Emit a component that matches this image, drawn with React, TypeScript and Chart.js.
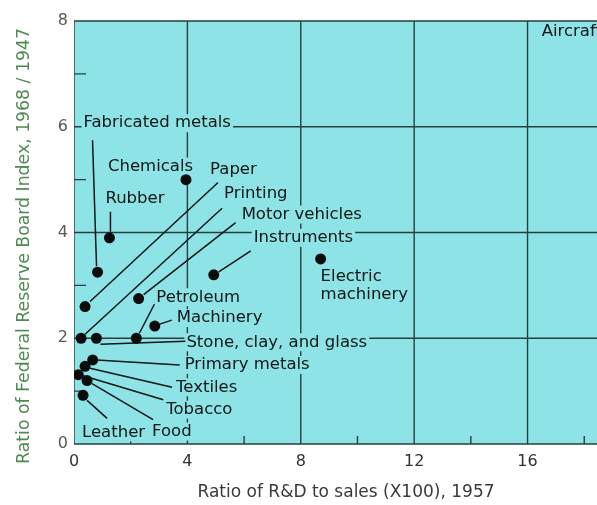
import React, { useEffect, useRef } from "react";
import { Chart, registerables } from "chart.js";

Chart.register(...registerables);

// ---- data ----
const industries = [
  "Chemicals", "Rubber", "Fabricated metals", "Paper", "Printing",
  "Motor vehicles", "Instruments", "Electric machinery", "Petroleum", "Machinery",
  "Stone, clay, and glass", "Primary metals", "Textiles", "Tobacco", "Food", "Leather",
];
const rdToSales = [3.95, 1.25, 0.83, 0.39, 0.25, 2.28, 4.93, 8.7, 2.2, 2.85, 0.79, 0.66, 0.39, 0.15, 0.46, 0.32];
const frbRatio = [5.0, 3.9, 3.25, 2.6, 2.0, 2.75, 3.2, 3.5, 2.0, 2.23, 2.0, 1.59, 1.47, 1.31, 1.2, 0.92];

const xMajorTicks = [0, 4, 8, 12, 16];
const xMinorTicks = [2, 6, 10, 14, 18];
const yMajorTicks = [0, 2, 4, 6, 8];
const yMinorTicks = [1, 3, 5, 7];

const xTitle = "Ratio of R&D to sales (X100), 1957";
const yTitle = "Ratio of Federal Reserve Board Index, 1968 / 1947";
const offChartLabel = { text: "Aircraft", x: 16.5, y: 7.8 };

// ---- label layout (pixel offsets from each point) ----
type Lab = { lines: string[]; dx: number; dy: number; lead?: number[] };
const labelLayout: Lab[] = [
  { lines: ["Chemicals"], dx: -78, dy: -13 },
  { lines: ["Rubber"], dx: -4, dy: -39, lead: [1, -6, 1, -26] },
  { lines: ["Fabricated metals"], dx: -14, dy: -149, lead: [-1, -6, -5, -132] },
  { lines: ["Paper"], dx: 125, dy: -137, lead: [5, -5, 133, -124] },
  { lines: ["Printing"], dx: 143, dy: -145, lead: [4, -4, 141, -130] },
  { lines: ["Motor vehicles"], dx: 103, dy: -84, lead: [5, -4, 97, -76] },
  { lines: ["Instruments"], dx: 40, dy: -37, lead: [5, -3, 37, -24] },
  { lines: ["Electric", "machinery"], dx: 0, dy: 18 },
  { lines: ["Petroleum"], dx: 20, dy: -41, lead: [3, -5, 18, -34] },
  { lines: ["Machinery"], dx: 22, dy: -8, lead: [5, -2, 17, -6] },
  { lines: ["Stone, clay, and glass"], dx: 90, dy: 4, lead: [4, 6, 89, 3] },
  { lines: ["Primary metals"], dx: 92, dy: 5, lead: [4, 0, 87, 5] },
  { lines: ["Textiles"], dx: 91, dy: 21, lead: [5, 2, 87, 21] },
  { lines: ["Tobacco"], dx: 88, dy: 35, lead: [5, 1, 85, 25] },
  { lines: ["Food"], dx: 65, dy: 51, lead: [5, 3, 66, 39] },
  { lines: ["Leather"], dx: -1, dy: 37, lead: [4, 5, 24, 23] },
];

const BG = "#8ee3e6";
const GRID = "#27403f";
const INK = "#111616";
const FONT = '16.5px "DejaVu Sans"';

const decor = {
  id: "decor",
  beforeDatasetsDraw(chart: any) {
    const { ctx, chartArea: a, scales } = chart;
    const xs = scales.x, ys = scales.y;
    ctx.save();
    ctx.fillStyle = BG;
    ctx.fillRect(a.left, a.top, a.right - a.left, a.bottom - a.top);
    ctx.beginPath();
    ctx.rect(a.left, a.top - 2, a.right - a.left, a.bottom - a.top + 4);
    ctx.clip();
    ctx.strokeStyle = GRID;
    ctx.lineWidth = 1.4;
    ctx.beginPath();
    for (const v of xMajorTicks) {
      const px = xs.getPixelForValue(v);
      ctx.moveTo(px, a.top); ctx.lineTo(px, a.bottom);
    }
    for (const v of yMajorTicks) {
      const py = ys.getPixelForValue(v);
      ctx.moveTo(a.left, py); ctx.lineTo(a.right, py);
    }
    for (const v of xMinorTicks) {
      const px = xs.getPixelForValue(v);
      ctx.moveTo(px, a.bottom); ctx.lineTo(px, a.bottom - 8);
    }
    for (const v of yMinorTicks) {
      const py = ys.getPixelForValue(v);
      ctx.moveTo(a.left, py); ctx.lineTo(a.left + 12, py);
    }
    ctx.stroke();

    ctx.font = FONT;
    ctx.textBaseline = "middle";
    const items: any[] = [];
    industries.forEach((_, i) => {
      const px = xs.getPixelForValue(rdToSales[i]);
      const py = ys.getPixelForValue(frbRatio[i]);
      items.push({ px, py, l: labelLayout[i] });
    });
    const ax = xs.getPixelForValue(offChartLabel.x);
    const ay = ys.getPixelForValue(offChartLabel.y);
    items.push({ px: ax, py: ay, l: { lines: [offChartLabel.text], dx: 0, dy: 0 } });

    // masks
    ctx.fillStyle = BG;
    for (const it of items) {
      it.l.lines.forEach((t: string, k: number) => {
        const w = ctx.measureText(t).width;
        ctx.fillRect(it.px + it.l.dx - 2, it.py + it.l.dy + k * 18 - 9, w + 4, 18);
      });
    }
    // leader lines
    ctx.strokeStyle = INK;
    ctx.lineWidth = 1.5;
    ctx.beginPath();
    for (const it of items) {
      const L = it.l.lead;
      if (!L) continue;
      ctx.moveTo(it.px + L[0], it.py + L[1]);
      ctx.lineTo(it.px + L[2], it.py + L[3]);
    }
    ctx.stroke();
    // texts
    ctx.fillStyle = INK;
    ctx.textAlign = "left";
    for (const it of items) {
      it.l.lines.forEach((t: string, k: number) => {
        ctx.fillText(t, it.px + it.l.dx, it.py + it.l.dy + k * 18);
      });
    }
    ctx.restore();
  },
  afterDraw(chart: any) {
    const { ctx } = chart;
    ctx.save();
    ctx.textAlign = "center";
    ctx.textBaseline = "middle";
    ctx.font = '17px "DejaVu Sans"';
    ctx.fillStyle = "#3a3a3a";
    ctx.fillText(xTitle, 346, 493);
    ctx.translate(25, 246);
    ctx.rotate(-Math.PI / 2);
    ctx.font = '17.3px "DejaVu Sans"';
    ctx.fillStyle = "#4e8a52";
    ctx.fillText(yTitle, 0, 0);
    ctx.restore();
  },
};

export default function App() {
  const ref = useRef<HTMLCanvasElement>(null);
  useEffect(() => {
    document.body.style.margin = "0";
    document.body.style.overflow = "hidden";
    const chart = new Chart(ref.current!, {
      type: "scatter",
      data: {
        datasets: [
          {
            label: "Industries",
            data: rdToSales.map((x, i) => ({ x, y: frbRatio[i] })),
            pointRadius: 5.5,
            pointHoverRadius: 5.5,
            backgroundColor: "#0c0c0c",
            borderColor: "#0c0c0c",
            borderWidth: 0,
          },
        ],
      },
      options: {
        animation: false,
        responsive: false,
        events: [],
        layout: { autoPadding: false, padding: { top: 21, right: 0, left: 0, bottom: 0 } },
        plugins: { legend: { display: false }, tooltip: { enabled: false } },
        scales: {
          x: {
            type: "linear",
            min: 0,
            max: 18.45,
            grid: { display: false, drawTicks: false },
            border: { display: false },
            afterFit: (s: any) => { s.height = 61; s.paddingRight = 0; s.paddingLeft = 0; },
            afterBuildTicks: (s: any) => { s.ticks = xMajorTicks.map((v) => ({ value: v })); },
            ticks: { color: "#333", font: { family: "DejaVu Sans", size: 16 }, padding: 8, maxRotation: 0 },
          },
          y: {
            type: "linear",
            min: 0,
            max: 8,
            grid: { display: false, drawTicks: false },
            border: { display: false },
            afterFit: (s: any) => { s.width = 74; },
            afterBuildTicks: (s: any) => { s.ticks = yMajorTicks.map((v) => ({ value: v })); },
            ticks: { color: "#5a5a50", font: { family: "DejaVu Sans", size: 16 }, padding: 6 },
          },
        },
      },
      plugins: [decor],
    });
    return () => chart.destroy();
  }, []);
  return (
    <div style={{ width: 597, height: 505, background: "#fff" }}>
      <canvas ref={ref} width={597} height={505} style={{ display: "block" }} />
    </div>
  );
}
